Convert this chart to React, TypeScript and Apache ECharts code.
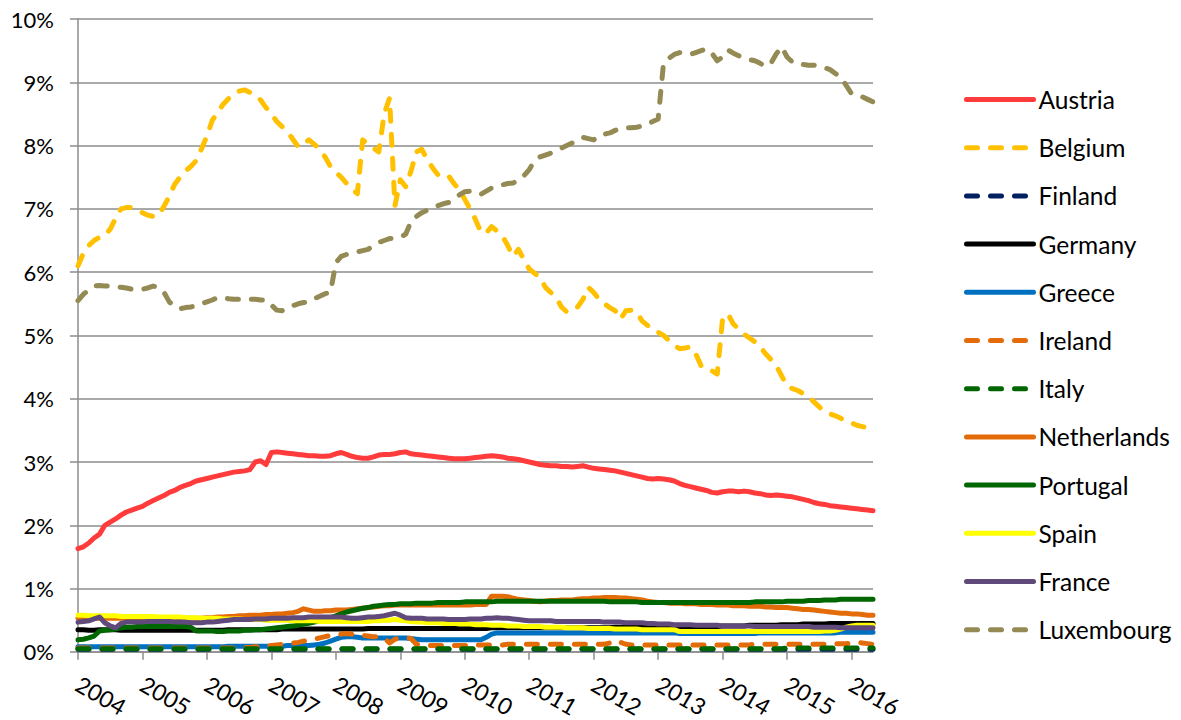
import React, { useEffect, useRef } from "react";
import * as echarts from "echarts";

const years = ["2004", "2005", "2006", "2007", "2008", "2009", "2010", "2011", "2012", "2013", "2014", "2015", "2016"];
const monthCount = 149; // Jan 2004 .. May 2016

const Austria = [
  1.63, 1.66, 1.72, 1.80, 1.86, 2.00, 2.05, 2.10, 2.16, 2.21, 2.24, 2.27,
  2.30, 2.35, 2.39, 2.43, 2.47, 2.52, 2.55, 2.60, 2.63, 2.66, 2.70, 2.72,
  2.74, 2.76, 2.78, 2.80, 2.82, 2.84, 2.85, 2.86, 2.88, 3.00, 3.02, 2.96,
  3.15, 3.16, 3.15, 3.14, 3.13, 3.12, 3.11, 3.10, 3.10, 3.09, 3.09, 3.10,
  3.13, 3.15, 3.12, 3.09, 3.07, 3.06, 3.06, 3.08, 3.11, 3.12, 3.12, 3.13,
  3.15, 3.16, 3.13, 3.12, 3.11, 3.10, 3.09, 3.08, 3.07, 3.06, 3.05, 3.05,
  3.05, 3.06, 3.07, 3.08, 3.09, 3.10, 3.09, 3.08, 3.06, 3.05, 3.04, 3.02,
  3.00, 2.98, 2.96, 2.95, 2.94, 2.94, 2.93, 2.93, 2.92, 2.93, 2.94, 2.92,
  2.90, 2.89, 2.88, 2.87, 2.86, 2.84, 2.82, 2.80, 2.78, 2.76, 2.74, 2.73,
  2.74, 2.73, 2.72, 2.70, 2.66, 2.63, 2.61, 2.59, 2.57, 2.55, 2.52, 2.51,
  2.53, 2.54, 2.54, 2.53, 2.54, 2.53, 2.51, 2.50, 2.48, 2.47, 2.48, 2.47,
  2.46, 2.45, 2.43, 2.41, 2.39, 2.36, 2.34, 2.33, 2.31, 2.30, 2.29, 2.28,
  2.27, 2.26, 2.25, 2.24, 2.23,
];

const Belgium = [
  6.10, 6.30, 6.42, 6.50, 6.55, 6.58, 6.68, 6.85, 7.00, 7.02, 7.02, 6.98,
  6.94, 6.90, 6.88, 6.90, 7.04, 7.20, 7.39, 7.50, 7.60, 7.67, 7.76, 7.95,
  8.15, 8.40, 8.52, 8.65, 8.74, 8.80, 8.86, 8.88, 8.84, 8.79, 8.72, 8.60,
  8.50, 8.38, 8.30, 8.22, 8.10, 7.98, 8.03, 8.09, 8.02, 7.94, 7.82, 7.67,
  7.58, 7.50, 7.40, 7.32, 7.24, 8.09, 8.02, 7.96, 7.90, 8.50, 8.75, 7.05,
  7.46, 7.35, 7.60, 7.90, 7.94, 7.78, 7.65, 7.54, 7.50, 7.52, 7.40, 7.30,
  7.15, 7.00, 6.83, 6.63, 6.62, 6.72, 6.65, 6.57, 6.42, 6.25, 6.36, 6.20,
  6.05, 5.98, 5.92, 5.76, 5.68, 5.60, 5.45, 5.37, 5.40, 5.45, 5.57, 5.76,
  5.68, 5.57, 5.50, 5.44, 5.39, 5.26, 5.39, 5.40, 5.37, 5.23, 5.16, 5.10,
  5.05, 5.00, 4.92, 4.84, 4.79, 4.80, 4.82, 4.71, 4.52, 4.48, 4.44, 4.39,
  5.26, 5.34, 5.18, 5.10, 5.02, 4.96, 4.90, 4.82, 4.71, 4.62, 4.52, 4.36,
  4.20, 4.16, 4.13, 4.08, 4.03, 3.95, 3.87, 3.80, 3.76, 3.73, 3.69, 3.65,
  3.62, 3.58, 3.56, 3.54, 3.53,
];

const Finland = [
  0.04, 0.04, 0.04, 0.04, 0.04, 0.04, 0.04, 0.04, 0.04, 0.04, 0.04, 0.04,
  0.04, 0.04, 0.04, 0.04, 0.04, 0.04, 0.04, 0.04, 0.04, 0.04, 0.04, 0.04,
  0.04, 0.04, 0.04, 0.04, 0.04, 0.04, 0.04, 0.04, 0.04, 0.04, 0.04, 0.04,
  0.04, 0.04, 0.04, 0.04, 0.04, 0.04, 0.04, 0.04, 0.04, 0.04, 0.04, 0.04,
  0.04, 0.04, 0.04, 0.04, 0.04, 0.04, 0.04, 0.04, 0.04, 0.04, 0.04, 0.04,
  0.04, 0.04, 0.04, 0.04, 0.04, 0.04, 0.04, 0.04, 0.04, 0.04, 0.04, 0.04,
  0.04, 0.04, 0.04, 0.04, 0.04, 0.04, 0.04, 0.04, 0.04, 0.04, 0.04, 0.04,
  0.04, 0.04, 0.04, 0.04, 0.04, 0.04, 0.04, 0.04, 0.04, 0.04, 0.04, 0.04,
  0.04, 0.04, 0.04, 0.04, 0.04, 0.04, 0.04, 0.04, 0.04, 0.04, 0.04, 0.04,
  0.04, 0.04, 0.04, 0.04, 0.04, 0.04, 0.04, 0.04, 0.04, 0.04, 0.04, 0.04,
  0.04, 0.04, 0.04, 0.04, 0.04, 0.04, 0.04, 0.04, 0.04, 0.04, 0.04, 0.04,
  0.04, 0.04, 0.04, 0.04, 0.04, 0.04, 0.04, 0.04, 0.04, 0.04, 0.04, 0.04,
  0.04, 0.04, 0.04, 0.04, 0.04,
];

const Germany = [
  0.35, 0.35, 0.34, 0.34, 0.35, 0.35, 0.35, 0.35, 0.34, 0.34, 0.34, 0.34,
  0.34, 0.34, 0.34, 0.34, 0.34, 0.34, 0.34, 0.34, 0.34, 0.34, 0.34, 0.34,
  0.34, 0.34, 0.34, 0.34, 0.35, 0.35, 0.35, 0.35, 0.35, 0.35, 0.35, 0.35,
  0.35, 0.35, 0.36, 0.36, 0.36, 0.36, 0.36, 0.36, 0.36, 0.36, 0.36, 0.36,
  0.36, 0.36, 0.36, 0.36, 0.36, 0.36, 0.37, 0.37, 0.37, 0.37, 0.37, 0.37,
  0.37, 0.37, 0.37, 0.37, 0.37, 0.37, 0.37, 0.37, 0.37, 0.37, 0.37, 0.37,
  0.37, 0.37, 0.37, 0.37, 0.37, 0.38, 0.38, 0.38, 0.38, 0.38, 0.38, 0.38,
  0.38, 0.38, 0.38, 0.38, 0.38, 0.38, 0.38, 0.38, 0.38, 0.38, 0.38, 0.38,
  0.38, 0.38, 0.38, 0.38, 0.39, 0.39, 0.39, 0.39, 0.39, 0.39, 0.39, 0.39,
  0.39, 0.39, 0.40, 0.40, 0.40, 0.40, 0.40, 0.40, 0.40, 0.40, 0.40, 0.40,
  0.41, 0.41, 0.41, 0.41, 0.41, 0.42, 0.42, 0.42, 0.42, 0.42, 0.42, 0.43,
  0.43, 0.43, 0.43, 0.44, 0.44, 0.44, 0.44, 0.44, 0.45, 0.45, 0.45, 0.45,
  0.45, 0.45, 0.45, 0.45, 0.45,
];

const Greece = [
  0.08, 0.08, 0.08, 0.08, 0.08, 0.08, 0.08, 0.08, 0.08, 0.08, 0.08, 0.08,
  0.08, 0.08, 0.08, 0.08, 0.08, 0.08, 0.08, 0.08, 0.08, 0.08, 0.08, 0.08,
  0.08, 0.08, 0.08, 0.08, 0.09, 0.09, 0.09, 0.09, 0.09, 0.09, 0.09, 0.09,
  0.09, 0.09, 0.09, 0.10, 0.10, 0.10, 0.10, 0.10, 0.11, 0.12, 0.14, 0.17,
  0.20, 0.23, 0.24, 0.24, 0.23, 0.22, 0.22, 0.22, 0.22, 0.22, 0.22, 0.22,
  0.22, 0.22, 0.21, 0.20, 0.19, 0.19, 0.19, 0.19, 0.19, 0.19, 0.19, 0.19,
  0.19, 0.19, 0.19, 0.19, 0.23, 0.28, 0.30, 0.30, 0.30, 0.30, 0.30, 0.30,
  0.30, 0.30, 0.30, 0.30, 0.30, 0.30, 0.30, 0.30, 0.30, 0.30, 0.30, 0.30,
  0.30, 0.30, 0.30, 0.30, 0.30, 0.30, 0.30, 0.30, 0.30, 0.30, 0.30, 0.30,
  0.30, 0.30, 0.30, 0.30, 0.29, 0.29, 0.29, 0.29, 0.29, 0.29, 0.29, 0.29,
  0.29, 0.29, 0.29, 0.29, 0.29, 0.29, 0.29, 0.30, 0.30, 0.30, 0.30, 0.30,
  0.30, 0.30, 0.30, 0.30, 0.30, 0.30, 0.30, 0.30, 0.30, 0.30, 0.31, 0.31,
  0.31, 0.31, 0.31, 0.31, 0.31,
];

const Ireland = [
  0.06, 0.06, 0.06, 0.06, 0.06, 0.06, 0.06, 0.06, 0.06, 0.06, 0.06, 0.06,
  0.06, 0.06, 0.06, 0.06, 0.06, 0.06, 0.06, 0.06, 0.06, 0.06, 0.06, 0.06,
  0.06, 0.06, 0.06, 0.06, 0.06, 0.06, 0.07, 0.07, 0.07, 0.08, 0.08, 0.09,
  0.10, 0.11, 0.12, 0.13, 0.14, 0.15, 0.17, 0.18, 0.20, 0.22, 0.24, 0.26,
  0.27, 0.28, 0.29, 0.28, 0.27, 0.26, 0.25, 0.24, 0.24, 0.22, 0.14, 0.20,
  0.22, 0.22, 0.21, 0.12, 0.10, 0.10, 0.10, 0.10, 0.10, 0.10, 0.10, 0.10,
  0.10, 0.10, 0.11, 0.11, 0.11, 0.11, 0.11, 0.11, 0.12, 0.12, 0.12, 0.12,
  0.12, 0.12, 0.12, 0.12, 0.12, 0.12, 0.12, 0.12, 0.12, 0.12, 0.12, 0.12,
  0.12, 0.12, 0.12, 0.14, 0.18, 0.15, 0.12, 0.11, 0.11, 0.11, 0.11, 0.11,
  0.11, 0.11, 0.11, 0.11, 0.11, 0.11, 0.11, 0.11, 0.11, 0.11, 0.11, 0.11,
  0.11, 0.11, 0.11, 0.11, 0.11, 0.11, 0.12, 0.12, 0.12, 0.12, 0.12, 0.12,
  0.12, 0.12, 0.12, 0.12, 0.12, 0.12, 0.12, 0.12, 0.12, 0.13, 0.13, 0.13,
  0.14, 0.15, 0.14, 0.13, 0.12,
];

const Italy = [
  0.05, 0.05, 0.05, 0.05, 0.05, 0.05, 0.05, 0.05, 0.05, 0.05, 0.05, 0.05,
  0.05, 0.05, 0.05, 0.05, 0.05, 0.05, 0.05, 0.05, 0.05, 0.05, 0.05, 0.05,
  0.05, 0.05, 0.05, 0.05, 0.05, 0.05, 0.05, 0.05, 0.05, 0.05, 0.05, 0.05,
  0.05, 0.05, 0.05, 0.05, 0.05, 0.05, 0.05, 0.05, 0.05, 0.05, 0.05, 0.05,
  0.05, 0.05, 0.05, 0.05, 0.05, 0.05, 0.05, 0.05, 0.05, 0.05, 0.05, 0.05,
  0.05, 0.05, 0.05, 0.05, 0.05, 0.05, 0.05, 0.05, 0.05, 0.05, 0.05, 0.05,
  0.05, 0.05, 0.05, 0.05, 0.05, 0.05, 0.05, 0.05, 0.05, 0.05, 0.05, 0.05,
  0.05, 0.05, 0.05, 0.05, 0.05, 0.05, 0.05, 0.05, 0.05, 0.05, 0.05, 0.05,
  0.05, 0.05, 0.05, 0.05, 0.05, 0.05, 0.05, 0.05, 0.05, 0.05, 0.05, 0.05,
  0.05, 0.05, 0.05, 0.05, 0.05, 0.05, 0.05, 0.05, 0.05, 0.05, 0.05, 0.05,
  0.05, 0.05, 0.05, 0.05, 0.05, 0.05, 0.05, 0.05, 0.05, 0.05, 0.05, 0.05,
  0.06, 0.06, 0.06, 0.06, 0.06, 0.06, 0.06, 0.06, 0.06, 0.06, 0.06, 0.06,
  0.06, 0.06, 0.06, 0.06, 0.06,
];

const Netherlands = [
  0.53, 0.53, 0.53, 0.53, 0.53, 0.53, 0.53, 0.53, 0.53, 0.53, 0.53, 0.53,
  0.53, 0.53, 0.53, 0.53, 0.53, 0.53, 0.53, 0.53, 0.53, 0.53, 0.53, 0.53,
  0.54, 0.54, 0.55, 0.55, 0.56, 0.56, 0.57, 0.57, 0.58, 0.58, 0.58, 0.59,
  0.59, 0.60, 0.60, 0.61, 0.62, 0.64, 0.68, 0.66, 0.64, 0.64, 0.65, 0.65,
  0.66, 0.66, 0.66, 0.67, 0.68, 0.69, 0.70, 0.71, 0.72, 0.73, 0.73, 0.74,
  0.74, 0.74, 0.74, 0.74, 0.74, 0.74, 0.74, 0.74, 0.74, 0.74, 0.74, 0.74,
  0.74, 0.74, 0.75, 0.75, 0.75, 0.88, 0.88, 0.88, 0.87, 0.85, 0.83, 0.82,
  0.81, 0.80, 0.79, 0.80, 0.81, 0.81, 0.82, 0.82, 0.82, 0.83, 0.84, 0.84,
  0.85, 0.85, 0.86, 0.86, 0.86, 0.85, 0.85, 0.84, 0.83, 0.82, 0.80, 0.79,
  0.78, 0.78, 0.77, 0.77, 0.77, 0.76, 0.76, 0.76, 0.75, 0.75, 0.75, 0.74,
  0.74, 0.74, 0.73, 0.73, 0.73, 0.72, 0.72, 0.72, 0.71, 0.71, 0.70, 0.70,
  0.70, 0.69, 0.68, 0.67, 0.67, 0.66, 0.65, 0.64, 0.63, 0.62, 0.61, 0.61,
  0.60, 0.60, 0.59, 0.58, 0.58,
];

const Portugal = [
  0.19, 0.20, 0.22, 0.25, 0.33, 0.34, 0.35, 0.36, 0.38, 0.39, 0.39, 0.40,
  0.40, 0.40, 0.40, 0.40, 0.40, 0.40, 0.40, 0.40, 0.40, 0.39, 0.33, 0.33,
  0.33, 0.33, 0.32, 0.32, 0.33, 0.33, 0.33, 0.34, 0.34, 0.35, 0.35, 0.36,
  0.37, 0.38, 0.39, 0.40, 0.41, 0.42, 0.44, 0.45, 0.47, 0.49, 0.51, 0.54,
  0.57, 0.60, 0.63, 0.65, 0.67, 0.69, 0.70, 0.72, 0.73, 0.74, 0.75, 0.75,
  0.76, 0.76, 0.76, 0.77, 0.77, 0.77, 0.77, 0.78, 0.78, 0.78, 0.78, 0.78,
  0.79, 0.79, 0.79, 0.79, 0.79, 0.79, 0.80, 0.80, 0.80, 0.80, 0.80, 0.80,
  0.80, 0.80, 0.80, 0.80, 0.80, 0.80, 0.80, 0.80, 0.80, 0.80, 0.80, 0.80,
  0.80, 0.80, 0.80, 0.79, 0.79, 0.79, 0.79, 0.79, 0.79, 0.78, 0.78, 0.78,
  0.78, 0.78, 0.78, 0.78, 0.78, 0.78, 0.78, 0.78, 0.78, 0.78, 0.78, 0.78,
  0.78, 0.78, 0.78, 0.78, 0.78, 0.78, 0.79, 0.79, 0.79, 0.79, 0.79, 0.79,
  0.80, 0.80, 0.80, 0.80, 0.81, 0.81, 0.81, 0.82, 0.82, 0.82, 0.83, 0.83,
  0.83, 0.83, 0.83, 0.83, 0.83,
];

const Spain = [
  0.58, 0.58, 0.57, 0.57, 0.57, 0.57, 0.57, 0.57, 0.56, 0.56, 0.56, 0.56,
  0.56, 0.56, 0.56, 0.55, 0.55, 0.55, 0.55, 0.55, 0.54, 0.54, 0.54, 0.53,
  0.53, 0.53, 0.53, 0.52, 0.52, 0.52, 0.52, 0.51, 0.51, 0.51, 0.51, 0.50,
  0.50, 0.50, 0.50, 0.50, 0.49, 0.49, 0.49, 0.49, 0.49, 0.48, 0.48, 0.48,
  0.48, 0.48, 0.48, 0.48, 0.48, 0.48, 0.48, 0.49, 0.49, 0.50, 0.50, 0.51,
  0.50, 0.49, 0.48, 0.47, 0.47, 0.46, 0.46, 0.46, 0.45, 0.45, 0.45, 0.44,
  0.44, 0.44, 0.43, 0.43, 0.43, 0.42, 0.42, 0.42, 0.41, 0.41, 0.41, 0.40,
  0.40, 0.40, 0.40, 0.39, 0.39, 0.39, 0.39, 0.38, 0.38, 0.38, 0.38, 0.37,
  0.37, 0.37, 0.37, 0.37, 0.36, 0.36, 0.36, 0.36, 0.36, 0.35, 0.35, 0.35,
  0.35, 0.35, 0.35, 0.35, 0.32, 0.32, 0.32, 0.32, 0.32, 0.32, 0.32, 0.32,
  0.32, 0.32, 0.32, 0.32, 0.32, 0.32, 0.32, 0.32, 0.32, 0.32, 0.32, 0.32,
  0.32, 0.32, 0.32, 0.32, 0.32, 0.32, 0.32, 0.33, 0.33, 0.34, 0.36, 0.39,
  0.41, 0.42, 0.42, 0.42, 0.42,
];

const France = [
  0.47, 0.48, 0.49, 0.52, 0.55, 0.46, 0.41, 0.38, 0.45, 0.47, 0.47, 0.47,
  0.47, 0.48, 0.48, 0.48, 0.48, 0.48, 0.47, 0.47, 0.47, 0.46, 0.46, 0.46,
  0.47, 0.47, 0.48, 0.49, 0.50, 0.51, 0.51, 0.51, 0.51, 0.52, 0.52, 0.52,
  0.53, 0.53, 0.53, 0.53, 0.54, 0.54, 0.54, 0.55, 0.55, 0.55, 0.55, 0.55,
  0.55, 0.55, 0.54, 0.53, 0.53, 0.54, 0.55, 0.55, 0.56, 0.57, 0.59, 0.61,
  0.58, 0.54, 0.53, 0.53, 0.53, 0.52, 0.52, 0.52, 0.52, 0.51, 0.51, 0.51,
  0.51, 0.52, 0.52, 0.52, 0.53, 0.53, 0.54, 0.53, 0.53, 0.52, 0.51, 0.50,
  0.49, 0.49, 0.49, 0.49, 0.49, 0.48, 0.48, 0.48, 0.48, 0.48, 0.48, 0.48,
  0.48, 0.48, 0.47, 0.47, 0.47, 0.47, 0.46, 0.46, 0.46, 0.46, 0.45, 0.45,
  0.44, 0.44, 0.44, 0.43, 0.43, 0.43, 0.43, 0.42, 0.42, 0.42, 0.42, 0.42,
  0.41, 0.41, 0.41, 0.41, 0.41, 0.41, 0.40, 0.40, 0.40, 0.40, 0.40, 0.40,
  0.40, 0.40, 0.40, 0.40, 0.40, 0.39, 0.39, 0.39, 0.39, 0.39, 0.38, 0.38,
  0.38, 0.38, 0.38, 0.38, 0.38,
];

const Luxembourg = [
  5.55, 5.65, 5.72, 5.78, 5.79, 5.78, 5.78, 5.77, 5.76, 5.75, 5.73, 5.73,
  5.73, 5.75, 5.78, 5.76, 5.68, 5.53, 5.45, 5.42, 5.44, 5.45, 5.47, 5.50,
  5.53, 5.56, 5.60, 5.60, 5.58, 5.57, 5.57, 5.57, 5.57, 5.57, 5.56, 5.56,
  5.48, 5.40, 5.39, 5.44, 5.47, 5.50, 5.52, 5.53, 5.58, 5.62, 5.66, 5.68,
  6.15, 6.25, 6.28, 6.30, 6.32, 6.34, 6.36, 6.42, 6.47, 6.50, 6.53, 6.54,
  6.55, 6.60, 6.80, 6.88, 6.94, 6.98, 7.02, 7.05, 7.08, 7.10, 7.16, 7.22,
  7.27, 7.28, 7.27, 7.23, 7.28, 7.33, 7.36, 7.38, 7.40, 7.41, 7.45, 7.52,
  7.62, 7.76, 7.82, 7.85, 7.88, 7.92, 7.96, 8.00, 8.04, 8.08, 8.13, 8.11,
  8.09, 8.16, 8.18, 8.20, 8.24, 8.27, 8.28, 8.28, 8.29, 8.31, 8.34, 8.38,
  8.42, 9.30, 9.38, 9.44, 9.47, 9.45, 9.44, 9.47, 9.50, 9.53, 9.46, 9.34,
  9.40, 9.51, 9.46, 9.42, 9.39, 9.36, 9.34, 9.30, 9.25, 9.30, 9.45, 9.56,
  9.40, 9.32, 9.28, 9.28, 9.27, 9.27, 9.26, 9.23, 9.20, 9.14, 9.08, 8.95,
  8.82, 8.79, 8.77, 8.73, 8.69,
];

const seriesNames = ["Austria", "Belgium", "Finland", "Germany", "Greece", "Ireland", "Italy", "Netherlands", "Portugal", "Spain", "France", "Luxembourg"];
const seriesData = [Austria, Belgium, Finland, Germany, Greece, Ireland, Italy, Netherlands, Portugal, Spain, France, Luxembourg];
const seriesColors = ["#FF3B3B", "#FFC000", "#002060", "#000000", "#0070C0", "#E36C09", "#006600", "#E36C09", "#006600", "#FFFF00", "#604A7B", "#948A54"];
const seriesDashed = [false, true, true, false, false, true, true, false, false, false, false, true];

const yTicks = [0, 1, 2, 3, 4, 5, 6, 7, 8, 9, 10];

const months: string[] = [];
for (const y of years) {
  for (let m = 1; m <= 12; m++) {
    if (months.length < monthCount) months.push(`${y}-${String(m).padStart(2, "0")}`);
  }
}

const FONT = "Lato, 'Liberation Sans', sans-serif";
const GRID = "#8c8c8c";

export default function App() {
  const ref = useRef<HTMLDivElement>(null);
  useEffect(() => {
    if (!ref.current) return;
    const chart = echarts.init(ref.current, null, { renderer: "svg" });
    const isYear = (i: number) => i % 12 === 0;
    chart.setOption({
      animation: false,
      backgroundColor: "#ffffff",
      textStyle: { fontFamily: FONT },
      grid: { left: 78, right: 308, top: 19, bottom: 66, containLabel: false },
      xAxis: {
        type: "category",
        data: months,
        boundaryGap: false,
        axisLine: { show: true, lineStyle: { color: GRID, width: 1.5 } },
        axisTick: { show: true, interval: isYear, length: 8, lineStyle: { color: GRID, width: 1.5 } },
        axisLabel: {
          interval: isYear,
          formatter: (v: string) => v.slice(0, 4),
          rotate: -30,
          margin: 30,
          fontSize: 23,
          color: "#000",
          fontFamily: FONT,
        },
        splitLine: { show: false },
      },
      yAxis: {
        type: "value",
        min: yTicks[0],
        max: yTicks[yTicks.length - 1],
        interval: 1,
        axisLine: { show: true, lineStyle: { color: GRID, width: 1.5 } },
        axisTick: { show: true, length: 8, lineStyle: { color: GRID, width: 1.5 } },
        axisLabel: { formatter: "{value}%", fontSize: 22, margin: 24, color: "#000", fontFamily: FONT },
        splitLine: { show: true, lineStyle: { color: GRID, width: 1.5 } },
      },
      legend: {
        orient: "vertical",
        left: 964,
        top: 87,
        padding: 0,
        itemWidth: 67,
        itemHeight: 14,
        itemGap: 23.2,
        textStyle: { fontSize: 24.5, color: "#000", fontFamily: FONT, lineHeight: 24 },
        lineStyle: { width: 5 },
        itemStyle: { opacity: 0 },
        selectedMode: false,
        data: seriesNames,
      },
      series: seriesNames.map((name, k) => ({
        name,
        type: "line",
        data: seriesData[k],
        symbol: "none",
        showSymbol: false,
        smooth: false,
        lineStyle: {
          color: seriesColors[k],
          width: 5,
          type: seriesDashed[k] ? [11, 13] : "solid",
          cap: "round",
          join: "round",
        },
        itemStyle: { color: seriesColors[k] },
        emphasis: { disabled: true },
      })),
    });
    return () => chart.dispose();
  }, []);
  return <div ref={ref} style={{ position: "fixed", left: 0, top: 0, width: 1181, height: 720 }} />;
}
